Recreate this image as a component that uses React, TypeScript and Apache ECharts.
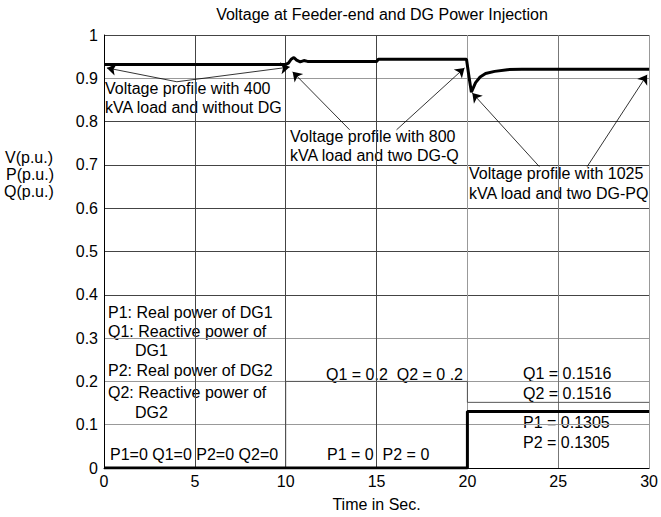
import React, { useEffect, useRef } from "react";
import * as echarts from "echarts";

// Voltage at feeder end (p.u.)
const voltageTime = [0, 10, 10.15, 10.3, 10.45, 10.6, 10.8, 11.0, 11.2, 11.4, 15, 15.1, 19.95, 20.1, 20.22, 20.45, 20.7, 21.0, 21.5, 22.2, 23, 30];
const voltageValue = [0.932, 0.932, 0.935, 0.944, 0.948, 0.942, 0.938, 0.941, 0.939, 0.939, 0.939, 0.944, 0.944, 0.9, 0.868, 0.89, 0.903, 0.911, 0.916, 0.92, 0.921, 0.921];

// Reactive power of DGs (p.u.)
const qTime = [0, 10, 10, 20, 20, 30];
const qValue = [0, 0, 0.2, 0.2, 0.1516, 0.1516];

// Real power of DGs (p.u.)
const pTime = [0, 20, 20, 30];
const pValue = [0, 0, 0.1305, 0.1305];

// Annotation arrows: [t, v] start -> end
const arrowFrom = [[4.01, 0.892], [4.01, 0.892], [13.52, 0.781], [16.1, 0.781], [23.96, 0.696], [26.59, 0.696]];
const arrowTo = [[0.16, 0.924], [10.22, 0.926], [10.38, 0.915], [19.84, 0.924], [20.27, 0.866], [29.89, 0.908]];

const FONT = "Liberation Sans, Arial, Helvetica, sans-serif";

export default function App() {
  const ref = useRef<HTMLDivElement>(null);

  useEffect(() => {
    if (!ref.current) return;
    const chart = echarts.init(ref.current, null, { renderer: "svg" });

    const zip = (a: number[], b: number[]) => a.map((x, i) => [x, b[i]]);

    const txt = (text: string, x: number, y: number) => ({
      type: "text",
      x,
      y,
      silent: true,
      style: {
        text,
        font: `16px ${FONT}`,
        fill: "#000",
        align: "left",
        verticalAlign: "middle",
      },
    });

    const texts: [string, number, number][] = [
      ["Voltage profile with 400", 105, 88],
      ["kVA load and without DG", 105, 107],
      ["Voltage profile with 800", 290, 136],
      ["kVA load and two DG-Q", 290, 155],
      ["Voltage profile with 1025", 469, 173],
      ["kVA load and two DG-PQ", 469, 193],
      ["P1: Real power of DG1", 108, 312],
      ["Q1: Reactive power of", 108, 331],
      ["DG1", 135, 350],
      ["P2: Real power of DG2", 108, 370],
      ["Q2: Reactive power of", 108, 392],
      ["DG2", 135, 412],
      ["P1=0 Q1=0 P2=0 Q2=0", 110, 454],
      ["P1 = 0  P2 = 0", 327, 454],
      ["Q1 = 0.2  Q2 = 0 .2", 326, 374],
      ["Q1 = 0.1516", 523, 373],
      ["Q2 = 0.1516", 523, 393],
      ["P1 = 0.1305", 523, 422],
      ["P2 = 0.1305", 523, 442],
      ["V(p.u.)", 5, 157],
      ["P(p.u.)", 6, 174],
      ["Q(p.u.)", 4, 191],
    ];

    chart.setOption({
      animation: false,
      backgroundColor: "#fff",
      title: {
        text: "Voltage at Feeder-end and DG Power Injection",
        left: 377,
        top: 1,
        textAlign: "center",
        textStyle: { fontFamily: FONT, fontSize: 16, fontWeight: "normal", color: "#000" },
      },
      grid: { left: 104, right: 11, top: 35, bottom: 48 },
      xAxis: {
        type: "value",
        min: 0,
        max: 30,
        interval: 5,
        name: "Time in Sec.",
        nameLocation: "middle",
        nameGap: 28,
        nameTextStyle: { fontFamily: FONT, fontSize: 16, color: "#000" },
        axisLine: { show: true, onZero: false, lineStyle: { color: "#000", width: 1 } },
        axisTick: { show: false },
        axisLabel: { fontFamily: FONT, fontSize: 16, color: "#000", margin: 5 },
        splitLine: {
          show: true,
          lineStyle: { color: ["#000", "#444", "#444", "#444", "#999", "#777", "#999"], width: 1 },
        },
      },
      yAxis: {
        type: "value",
        min: 0,
        max: 1,
        interval: 0.1,
        axisLine: { show: true, lineStyle: { color: "#000", width: 1 } },
        axisTick: { show: false },
        axisLabel: { fontFamily: FONT, fontSize: 16, color: "#000", margin: 6 },
        splitLine: {
          show: true,
          lineStyle: {
            color: ["#000", "#999", "#999", "#999", "#444", "#444", "#444", "#444", "#444", "#999", "#444"],
            width: 1,
          },
        },
      },
      graphic: texts.map(([t, x, y]) => txt(t, x, y)),
      series: [
        {
          type: "line",
          name: "Q",
          data: zip(qTime, qValue),
          showSymbol: false,
          lineStyle: { color: "#555", width: 1 },
          z: 3,
        },
        {
          type: "line",
          name: "P",
          data: zip(pTime, pValue),
          showSymbol: false,
          lineStyle: { color: "#000", width: 3 },
          z: 4,
        },
        {
          type: "line",
          name: "V",
          data: zip(voltageTime, voltageValue),
          showSymbol: false,
          lineStyle: { color: "#000", width: 3 },
          z: 5,
          markLine: {
            silent: true,
            symbol: ["none", "arrow"],
            symbolSize: 9,
            label: { show: false },
            lineStyle: { color: "#000", width: 0.8, type: "solid" },
            emphasis: { disabled: true },
            data: arrowFrom.map((f, i) => [{ coord: f }, { coord: arrowTo[i] }]),
          },
        },
      ],
    });

    return () => chart.dispose();
  }, []);

  return (
    <div
      ref={ref}
      style={{ position: "fixed", left: 0, top: 0, width: 661, height: 517, background: "#fff" }}
    />
  );
}
